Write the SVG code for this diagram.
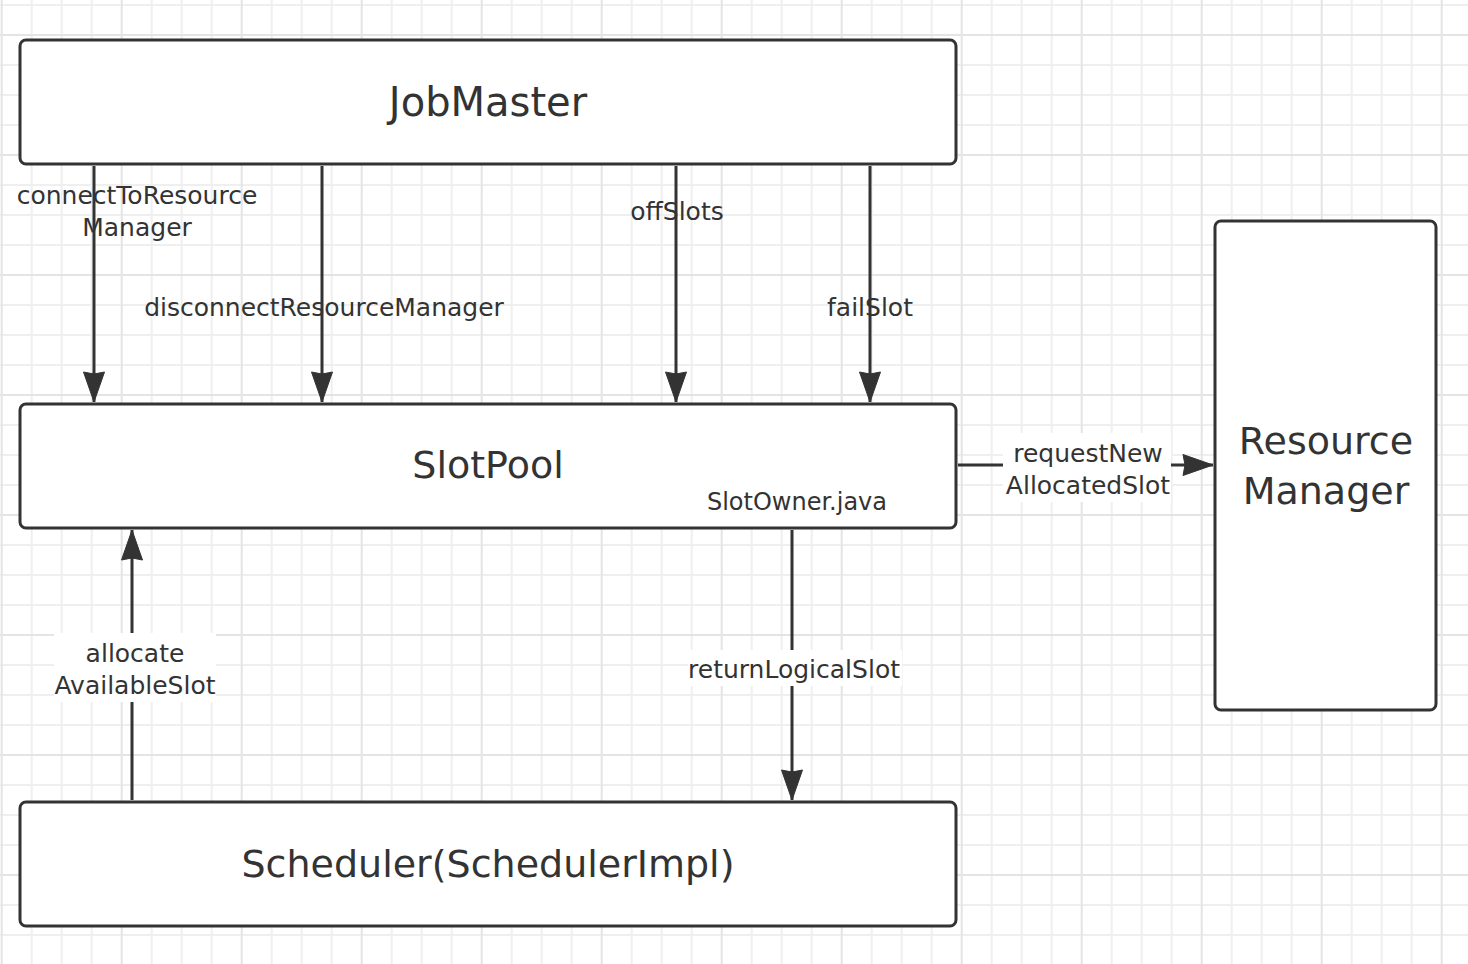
<svg xmlns="http://www.w3.org/2000/svg" width="1468" height="964" viewBox="0 0 1468 964">
  <style>
    .box { fill: #ffffff; stroke: #333333; stroke-width: 3; }
    .title { font-family: "DejaVu Sans", sans-serif; font-size: 38px; fill: #333333; text-anchor: middle; }
    .lbl { font-family: "DejaVu Sans", sans-serif; font-size: 25px; fill: #333333; text-anchor: middle; }
    .small { font-family: "DejaVu Sans", sans-serif; font-size: 24px; fill: #333333; text-anchor: middle; }
    .edge { fill: none; stroke: #333333; stroke-width: 3; }
    .lblbg { fill: #ffffff; stroke: none; }
  </style>
  <defs>
    <pattern id="grid" x="0.7" y="34" width="120" height="120" patternUnits="userSpaceOnUse">
      <rect x="30" y="0" width="2" height="120" fill="#efefef"/>
      <rect x="60" y="0" width="2" height="120" fill="#efefef"/>
      <rect x="90" y="0" width="2" height="120" fill="#efefef"/>
      <rect x="0" y="30" width="120" height="2" fill="#efefef"/>
      <rect x="0" y="60" width="120" height="2" fill="#efefef"/>
      <rect x="0" y="90" width="120" height="2" fill="#efefef"/>
      <rect x="0" y="0" width="2" height="120" fill="#e4e4e4"/>
      <rect x="0" y="0" width="120" height="2" fill="#e4e4e4"/>
    </pattern>
    <marker id="arrow" viewBox="0 0 32 22" refX="31" refY="11" markerWidth="32" markerHeight="22" markerUnits="userSpaceOnUse" orient="auto">
      <path d="M1,0.5 L31,11 L1,21.5 L3,11 Z" fill="#333333" stroke="#333333" stroke-width="1"/>
    </marker>
  </defs>

  <rect x="0" y="0" width="1468" height="964" fill="#ffffff"/>
  <rect x="0" y="0" width="1468" height="964" fill="url(#grid)"/>

  <g id="connectors">
    <line class="edge" x1="94" y1="166" x2="94" y2="402" marker-end="url(#arrow)"/>
    <line class="edge" x1="322" y1="166" x2="322" y2="402" marker-end="url(#arrow)"/>
    <line class="edge" x1="676" y1="166" x2="676" y2="402" marker-end="url(#arrow)"/>
    <line class="edge" x1="870" y1="166" x2="870" y2="402" marker-end="url(#arrow)"/>
    <line class="edge" x1="958" y1="465" x2="1213" y2="465" marker-end="url(#arrow)"/>
    <line class="edge" x1="132" y1="800" x2="132" y2="530" marker-end="url(#arrow)"/>
    <line class="edge" x1="792" y1="530" x2="792" y2="800" marker-end="url(#arrow)"/>

    <text class="lbl" x="137" y="204">connectToResource</text>
    <text class="lbl" x="137" y="236">Manager</text>
    <text class="lbl" x="324" y="316">disconnectResourceManager</text>
    <text class="lbl" x="677" y="220">offSlots</text>
    <text class="lbl" x="870" y="316">failSlot</text>

    <rect class="lblbg" x="1003" y="433" width="168" height="69"/>
    <text class="lbl" x="1088" y="462">requestNew</text>
    <text class="lbl" x="1088" y="494">AllocatedSlot</text>

    <rect class="lblbg" x="54" y="633" width="162" height="69"/>
    <text class="lbl" x="135" y="662">allocate</text>
    <text class="lbl" x="135" y="694">AvailableSlot</text>

    <rect class="lblbg" x="688" y="650" width="214" height="36"/>
    <text class="lbl" x="794" y="678">returnLogicalSlot</text>
  </g>

  <g id="jobmaster">
    <rect class="box" x="20" y="40" width="936" height="124" rx="6" ry="6"/>
    <text class="title" x="488" y="116" style="font-size:40px">JobMaster</text>
  </g>

  <g id="slotpool">
    <rect class="box" x="20" y="404" width="936" height="124" rx="6" ry="6"/>
    <text class="title" x="488" y="478">SlotPool</text>
    <text class="small" x="797" y="510">SlotOwner.java</text>
  </g>

  <g id="scheduler">
    <rect class="box" x="20" y="802" width="936" height="124" rx="6" ry="6"/>
    <text class="title" x="488" y="877">Scheduler(SchedulerImpl)</text>
  </g>

  <g id="resourcemanager">
    <rect class="box" x="1215" y="221" width="221" height="489" rx="6" ry="6"/>
    <text class="title" x="1326" y="454">Resource</text>
    <text class="title" x="1326" y="504">Manager</text>
  </g>
</svg>
